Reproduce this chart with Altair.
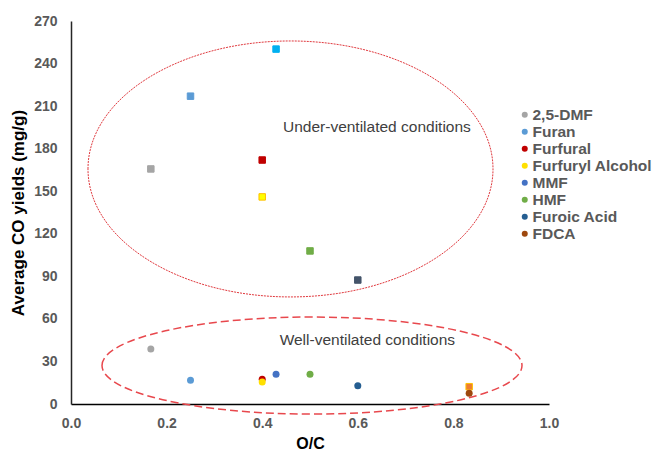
import altair as alt
import pandas as pd

# ---- data ----
compounds = ["2,5-DMF", "Furan", "Furfural", "Furfuryl Alcohol", "MMF", "HMF", "Furoic Acid", "FDCA"]
o_c = [0.167, 0.25, 0.40, 0.40, 0.429, 0.50, 0.60, 0.833]
under_yield = [165.7, 217.0, 172.0, 146.0, 250.2, 107.9, 87.4, 12.2]
well_yield = [38.8, 16.7, 17.4, 15.5, 20.9, 20.9, 12.9, 7.5]

legend_colors = ["#A5A5A5", "#5B9BD5", "#C00000", "#FFC000", "#4472C4", "#70AD47", "#255E91", "#9E480E"]
circle_colors = ["#A5A5A5", "#5B9BD5", "#C00000", "#FFE000", "#4472C4", "#70AD47", "#255E91", "#9E480E"]
square_fill = ["#A5A5A5", "#5B9BD5", "#C00000", "#FFFF00", "#00B0F0", "#70AD47", "#44546A", "#ED7D31"]
square_stroke = ["#A5A5A5", "#5B9BD5", "#C00000", "#FFC000", "#00B0F0", "#70AD47", "#44546A", "#FFC000"]

x_ticks = [0.0, 0.2, 0.4, 0.6, 0.8, 1.0]
y_ticks = [0, 30, 60, 90, 120, 150, 180, 210, 240, 270]

# annotations (region labels and ellipse centres, in data units)
region_labels = ["Under-ventilated conditions", "Well-ventilated conditions"]
label_x = [0.640, 0.620]
label_y = [195.3, 45.1]
ellipse_x = [0.4592, 0.5042]
ellipse_y = [165.7, 27.1]

FONT = "Liberation Sans"

df = pd.DataFrame({
    "compound": compounds,
    "oc": o_c,
    "under": under_yield,
    "well": well_yield,
    "sfill": square_fill,
    "sstroke": square_stroke,
})
lab = pd.DataFrame({"text": region_labels, "x": label_x, "y": label_y})
ell_under = pd.DataFrame({"x": [ellipse_x[0]], "y": [ellipse_y[0]]})
ell_well = pd.DataFrame({"x": [ellipse_x[1]], "y": [ellipse_y[1]]})

xscale = alt.Scale(domain=[0, 1], nice=False, zero=False)
yscale = alt.Scale(domain=[0, 270], nice=False)

xaxis = alt.Axis(
    values=x_ticks, format=".1f", grid=False, ticks=False, labelFlush=False,
    domainColor="#000000", domainWidth=1.5,
    labelFont=FONT, labelFontSize=14, labelFontWeight="bold", labelColor="#595959",
    labelPadding=12,
    title="O/C", titleFont=FONT, titleFontSize=16, titleFontWeight="bold",
    titleColor="#000000", titlePadding=5,
)
yaxis = alt.Axis(
    values=y_ticks, grid=False, ticks=False, labelFlush=False,
    domainColor="#262626", domainWidth=1.5,
    labelFont=FONT, labelFontSize=14, labelFontWeight="bold", labelColor="#595959",
    labelPadding=14,
    title="Average CO yields (mg/g)", titleFont=FONT, titleFontSize=17,
    titleFontWeight="bold", titleColor="#000000", titlePadding=6,
)

under_path = "M -1 0 A 1 0.632 0 1 1 1 0 A 1 0.632 0 1 1 -1 0 Z"
well_path = "M -1 0 A 1 0.231 0 1 1 1 0 A 1 0.231 0 1 1 -1 0 Z"

e1 = alt.Chart(ell_under).mark_point(
    shape=under_path, size=405 ** 2, filled=False, stroke="#E0393E",
    strokeWidth=1, strokeDash=[2, 1], opacity=1,
).encode(x=alt.X("x:Q", scale=xscale, axis=xaxis), y=alt.Y("y:Q", scale=yscale, axis=yaxis))

e2 = alt.Chart(ell_well).mark_point(
    shape=well_path, size=420 ** 2, filled=False, stroke="#E8484D",
    strokeWidth=1.5, strokeDash=[8, 4], opacity=1,
).encode(x=alt.X("x:Q", scale=xscale), y=alt.Y("y:Q", scale=yscale))

texts = alt.Chart(lab).mark_text(
    font=FONT, fontSize=15.5, color="#404040", align="center", baseline="middle",
).encode(x=alt.X("x:Q", scale=xscale), y=alt.Y("y:Q", scale=yscale), text="text:N")

squares = alt.Chart(df).mark_point(
    shape="square", filled=True, size=42, strokeWidth=1, opacity=1,
).encode(
    x=alt.X("oc:Q", scale=xscale),
    y=alt.Y("under:Q", scale=yscale),
    fill=alt.Fill("sfill:N", scale=None, legend=None),
    stroke=alt.Stroke("sstroke:N", scale=None, legend=None),
)

circles = alt.Chart(df).mark_circle(size=49, opacity=1).encode(
    x=alt.X("oc:Q", scale=xscale),
    y=alt.Y("well:Q", scale=yscale),
    color=alt.Color(
        "compound:N",
        sort=compounds,
        scale=alt.Scale(domain=compounds, range=circle_colors),
        legend=alt.Legend(
            title=None, orient="none", legendX=446, legendY=86,
            symbolType="circle", symbolSize=36, symbolStrokeWidth=0,
            labelFont=FONT, labelFontSize=15.5, labelFontWeight="bold",
            labelColor="#595959", labelOffset=0, rowPadding=0, padding=0,
            values=compounds,
        ),
    ),
)

chart = alt.layer(e1, e2, texts, squares, circles).properties(
    width=478, height=383,
    padding={"left": 71, "top": 21, "right": 104, "bottom": 46},
    autosize=alt.AutoSizeParams(type="none"),
    background="#FFFFFF",
).configure_view(stroke=None)

chart.save("out.html", embed_options={"renderer": "svg", "actions": False})
